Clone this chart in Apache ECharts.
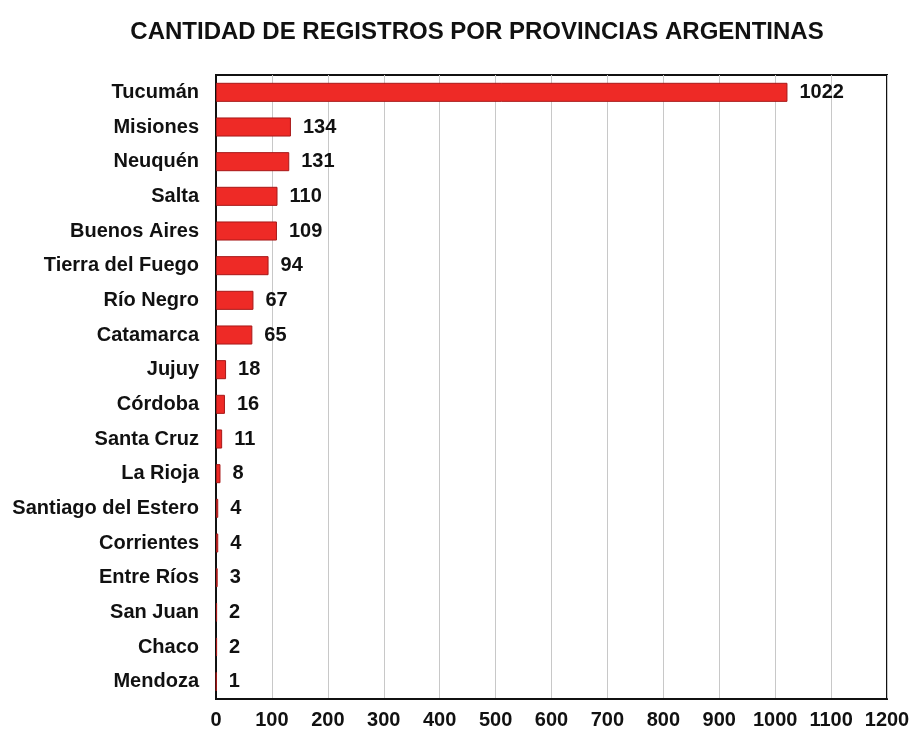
<!DOCTYPE html>
<html>
<head>
<meta charset="utf-8">
<script src="https://cdn.jsdelivr.net/npm/echarts@6/dist/echarts.min.js"></script>
<style>
  html, body { margin: 0; padding: 0; background: #fff; }
  #chart { width: 913px; height: 731px; }
</style>
</head>
<body>
<div id="chart"></div>
<script>
// provincias (de arriba hacia abajo) y cantidad de registros
const provincias = ['Tucumán', 'Misiones', 'Neuquén', 'Salta', 'Buenos Aires', 'Tierra del Fuego',
  'Río Negro', 'Catamarca', 'Jujuy', 'Córdoba', 'Santa Cruz', 'La Rioja', 'Santiago del Estero',
  'Corrientes', 'Entre Ríos', 'San Juan', 'Chaco', 'Mendoza'];
const registros = [1022, 134, 131, 110, 109, 94, 67, 65, 18, 16, 11, 8, 4, 4, 3, 2, 2, 1];

const fontBase = 'Liberation Sans, Arial, sans-serif';

const chart = echarts.init(document.getElementById('chart'));
const option = {
  animation: false,
  title: {
    text: 'CANTIDAD DE REGISTROS POR PROVINCIAS ARGENTINAS',
    left: 472,
    textAlign: 'center',
    top: 15,
    textStyle: { fontFamily: fontBase, fontWeight: 'bold', fontSize: 24, color: '#111' },
  },
  grid: {
    left: 216,
    right: 26,
    top: 75,
    bottom: 32,
    show: true,
    borderColor: '#111',
    borderWidth: 2,
    containLabel: false,
  },
  xAxis: {
    type: 'value',
    min: 0,
    max: 1200,
    interval: 100,
    axisLine: { show: true, lineStyle: { color: '#111', width: 2 } },
    axisTick: { show: false },
    splitLine: { show: true, lineStyle: { color: '#c8c8c8', width: 1 } },
    axisLabel: {
      margin: 11,
      formatter: (v) => String(v),
      fontFamily: fontBase, fontWeight: 'bold', fontSize: 20, color: '#111',
    },
  },
  yAxis: {
    type: 'category',
    inverse: true,
    data: provincias,
    axisLine: { show: true, lineStyle: { color: '#111', width: 2 } },
    axisTick: { show: false },
    axisLabel: {
      margin: 17,
      fontFamily: fontBase, fontWeight: 'bold', fontSize: 20, color: '#111',
    },
  },
  series: [
    {
      type: 'bar',
      data: registros,
      barWidth: '55%',
      itemStyle: { color: '#ee2a26', borderColor: '#a81818', borderWidth: 1 },
      label: {
        show: true,
        position: 'right',
        distance: 12,
        fontFamily: fontBase, fontWeight: 'bold', fontSize: 20, color: '#111',
      },
    },
  ],
};
chart.setOption(option);
</script>
</body>
</html>
